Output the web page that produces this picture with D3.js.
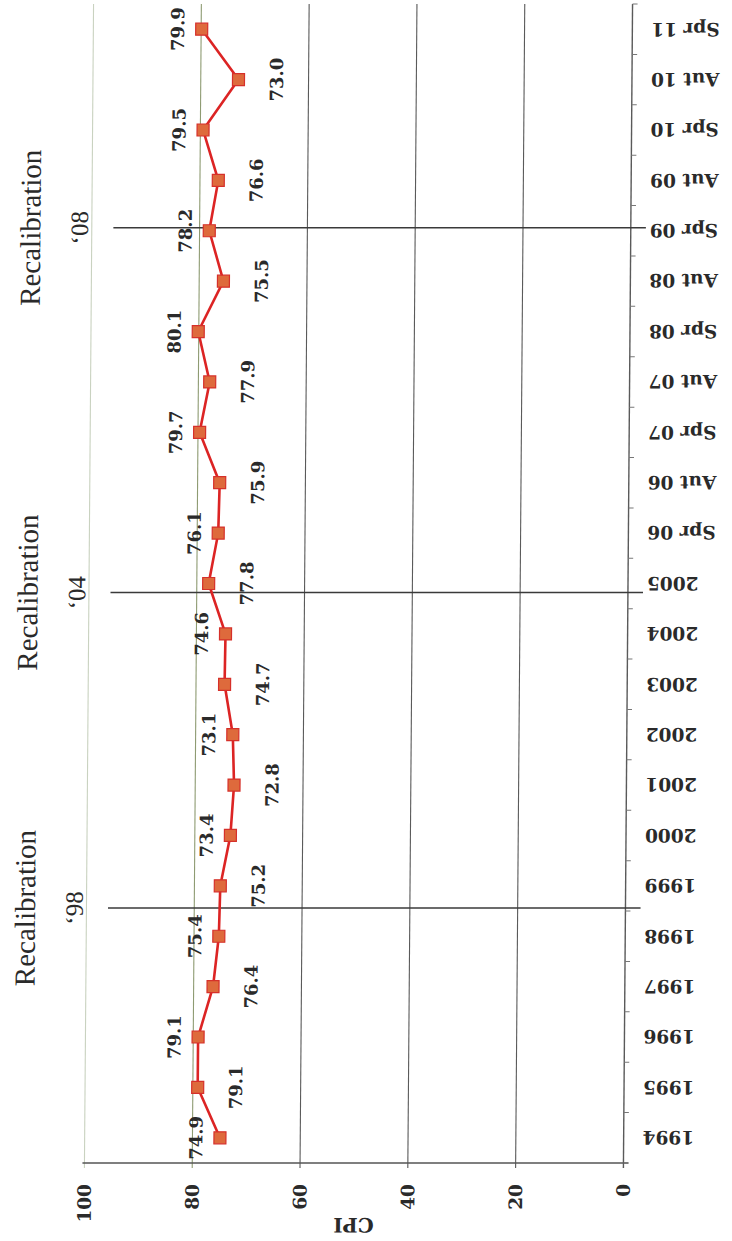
<!DOCTYPE html>
<html>
<head>
<meta charset="utf-8">
<script src="https://cdn.jsdelivr.net/npm/d3@7"></script>
<style>
  html, body { margin: 0; padding: 0; background: #fff; }
  svg { display: block; }
</style>
</head>
<body>
<svg id="chart" width="732" height="1241"></svg>
<script>
// ---- data ----
const categories = ["1994","1995","1996","1997","1998","1999","2000","2001","2002","2003","2004","2005",
  "Spr 06","Aut 06","Spr 07","Aut 07","Spr 08","Aut 08","Spr 09","Aut 09","Spr 10","Aut 10","Spr 11"];
const cpiValues = [74.9,79.1,79.1,76.4,75.4,75.2,73.4,72.8,73.1,74.7,74.6,77.8,
  76.1,75.9,79.7,77.9,80.1,75.5,78.2,76.6,79.5,73.0,79.9];
const cpiTicks = [0,20,40,60,80,100];
const recalLabels = ["‘98","‘04","‘08"];
const recalCategory = ["1999","2005","Spr 09"];
const recalOffset = [0.44,0.18,-0.06];   // fraction of a category step
const axisTitle = "CPI";
const recalText = "Recalibration";

// ---- drawing ----
const svg = d3.select("#chart");
const g = svg.append("g").attr("transform", "translate(0,584) skewX(-0.45) translate(0,-584)");

const x = d3.scaleLinear().domain([0,100]).range([628, 89]);
const y = d3.scaleBand().domain(categories.slice().reverse()).range([4, 1163]).padding(0);
const step = y.step();
const cy = c => y(c) + step / 2;

const ink = "#2a2a2a";
const numFont = "'DejaVu Serif', serif";

// grid lines
g.selectAll("line.grid").data(cpiTicks).join("line")
  .attr("class","grid")
  .attr("x1", d => x(d)).attr("x2", d => x(d))
  .attr("y1", y.range()[0]).attr("y2", y.range()[1] + 5)
  .attr("stroke", d => d === 100 ? "#c9d2c0" : d === 80 ? "#8e9b72" : "#5a5a5a")
  .attr("stroke-width", d => d === 0 ? 1.4 : 1.1);

// bottom axis line
g.append("line")
  .attr("x1", x(100) - 2).attr("x2", x(0) + 5)
  .attr("y1", y.range()[1]).attr("y2", y.range()[1])
  .attr("stroke", "#555").attr("stroke-width", 1.4);

// category ticks at band boundaries
const bounds = categories.map(c => y(c)).concat([y.range()[1]]);
g.selectAll("line.ctick").data(bounds).join("line")
  .attr("class","ctick")
  .attr("x1", x(0)).attr("x2", x(0) + 5)
  .attr("y1", d => d).attr("y2", d => d)
  .attr("stroke", "#777").attr("stroke-width", 1);

// category labels (upside down)
g.selectAll("text.cat").data(categories).join("text")
  .attr("class","cat")
  .attr("transform", d => `translate(${x(0) + 19},${cy(d)}) rotate(180)`)
  .attr("text-anchor","end")
  .attr("dy","0.36em")
  .attr("font-family", numFont).attr("font-weight","bold")
  .attr("font-size", 18.5).attr("fill", ink)
  .text(d => d);

// CPI tick labels (rotated -90)
g.selectAll("text.cpi").data(cpiTicks).join("text")
  .attr("class","cpi")
  .attr("transform", d => `translate(${x(d)},${y.range()[1] + 21}) rotate(-90)`)
  .attr("text-anchor","end")
  .attr("dy","0.36em")
  .attr("font-family", numFont).attr("font-weight","bold")
  .attr("font-size", 18.5).attr("fill", ink)
  .text(d => d);

// axis title (upside down)
g.append("text")
  .attr("transform", `translate(${(x(0) + x(100)) / 2},${y.range()[1] + 62}) rotate(180)`)
  .attr("text-anchor","middle")
  .attr("dy","0.36em")
  .attr("font-family", numFont).attr("font-weight","bold")
  .attr("font-size", 20).attr("fill", ink)
  .text(axisTitle);

// recalibration lines and texts
const recal = recalLabels.map((l, i) => ({label: l, ypos: cy(recalCategory[i]) + recalOffset[i] * step}));
g.selectAll("line.recal").data(recal).join("line")
  .attr("class","recal")
  .attr("x1", x(96)).attr("x2", x(-2.8))
  .attr("y1", d => d.ypos).attr("y2", d => d.ypos)
  .attr("stroke", "#3a3a3a").attr("stroke-width", 1.5);

g.selectAll("text.recalT").data(recal).join("text")
  .attr("class","recalT")
  .attr("transform", d => `translate(${x(100) - 61},${d.ypos}) rotate(-90)`)
  .attr("text-anchor","middle")
  .attr("dy","0.33em")
  .attr("font-family","'Liberation Serif', serif")
  .attr("font-size", 29).attr("fill", ink)
  .text(recalText);

g.selectAll("text.recalY").data(recal).join("text")
  .attr("class","recalY")
  .attr("transform", d => `translate(${x(100) - 12},${d.ypos}) rotate(-90)`)
  .attr("text-anchor","middle")
  .attr("dy","0.33em")
  .attr("font-family","'Liberation Serif', serif")
  .attr("font-size", 25).attr("fill", ink)
  .text(d => d.label);

// series line
const pts = categories.map((c, i) => ({cat: c, v: cpiValues[i], i}));
g.append("path")
  .datum(pts)
  .attr("d", d3.line().x(d => x(d.v)).y(d => cy(d.cat)))
  .attr("fill","none").attr("stroke","#dc2424").attr("stroke-width", 2.6)
  .attr("stroke-linejoin","round");

// markers
const ms = 12;
g.selectAll("rect.mk").data(pts).join("rect")
  .attr("class","mk")
  .attr("x", d => x(d.v) - ms / 2).attr("y", d => cy(d.cat) - ms / 2)
  .attr("width", ms).attr("height", ms)
  .attr("fill","#de6a3c").attr("stroke","#d6302a").attr("stroke-width", 1.2);

// value labels, alternating sides
g.selectAll("text.val").data(pts).join("text")
  .attr("class","val")
  .attr("transform", d => `translate(${x(d.v) + (d.i % 2 === 0 ? -24 : 38)},${cy(d.cat)}) rotate(-90)`)
  .attr("text-anchor","middle")
  .attr("dy","0.36em")
  .attr("font-family", numFont).attr("font-weight","bold")
  .attr("font-size", 18).attr("fill", ink)
  .text(d => d.v.toFixed(1));
</script>
</body>
</html>
